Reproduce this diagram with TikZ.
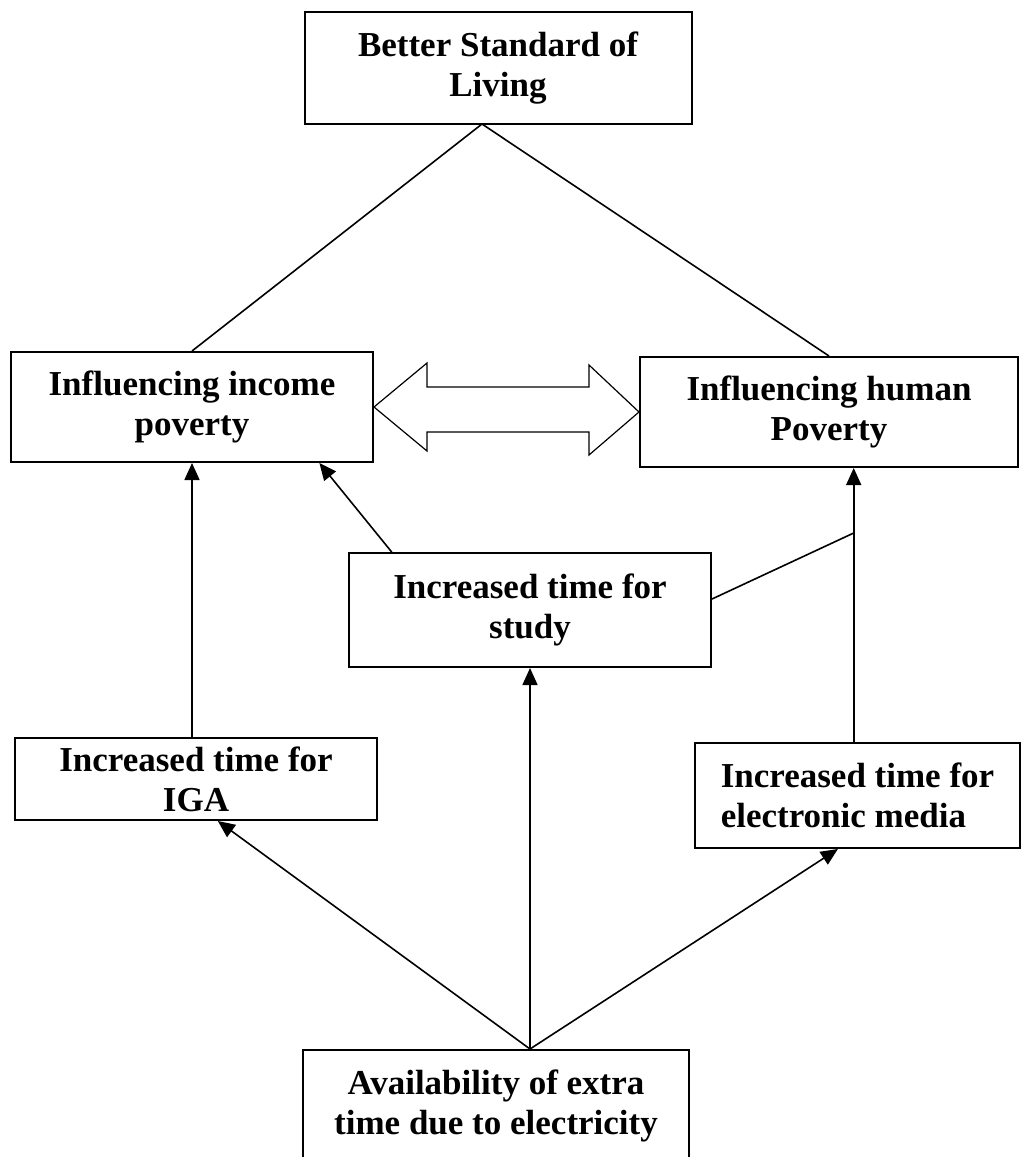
\documentclass[tikz,border=0pt]{standalone}
\usepackage{fontspec}
\setmainfont{Liberation Serif}
\usetikzlibrary{positioning,arrows.meta,calc}

\begin{document}
\begin{tikzpicture}[x=1pt,y=-1pt,
		box/.style={draw, line width=2pt, inner sep=0pt, align=center,
			font=\bfseries\fontsize{35}{40}\selectfont},
		link/.style={line width=1.6pt},
		arr/.style={line width=1.6pt, -{Triangle[length=17pt,width=15pt]}}]
	\useasboundingbox (0,0) rectangle (1024,1157);
	
	\node[box, minimum width=387pt, minimum height=112pt] (top) at (498,68) {Better Standard of\\Living};
	\node[box, minimum width=362pt, minimum height=110pt] (inc) at (192,407) {Influencing income\\poverty};
	\node[box, minimum width=378pt, minimum height=110pt] (hum) at (829,412) {Influencing human\\Poverty};
	\node[box, minimum width=362pt, minimum height=114pt] (study) at (530,610) {Increased time for\\study};
	\node[box, minimum width=362pt, minimum height=82pt] (iga) at (196,779) {Increased time for\\IGA};
	\node[box, align=left, minimum width=325pt, minimum height=105pt] (media) at (857.5,795.5) {Increased time for\\electronic media};
	\node[box, minimum width=386pt, minimum height=112pt] (avail) at (496,1106) {Availability of extra\\time due to electricity};
	
	\coordinate (topfoot) at (482,124);
	\coordinate (humfoot) at ($(hum.south west)!0.565!(hum.south east)$);
	\coordinate (joint) at (humfoot |- 0,533);
	
	\draw[link] (topfoot) -- (inc.north);
	\draw[link] (topfoot) -- (hum.north);
	
	% two-way block arrow
	\draw[line width=1.2pt, fill=white] (inc.east) -- (427,363) -- (427,387) -- (589,387) -- (589,365)
		-- (hum.west) -- (589,455) -- (589,432) -- (427,432) -- (427,451) -- cycle;
	
	\draw[arr] (iga.north -| inc.south) -- (inc.south);
	\draw[arr] ($(study.north west)!0.12!(study.north east)$) -- ($(inc.south west)!0.85!(inc.south east)$);
	\draw[arr] (media.north -| humfoot) -- (humfoot);
	\draw[link] ($(study.east)+(0,-11)$) -- (joint);
	
	\draw[arr] (avail.north -| study.south) -- (study.south);
	\draw[arr] (avail.north -| study.south) -- ($(iga.south west)!0.56!(iga.south east)$);
	\draw[arr] (avail.north -| study.south) -- ($(media.south west)!0.44!(media.south east)$);
\end{tikzpicture}
\end{document}
